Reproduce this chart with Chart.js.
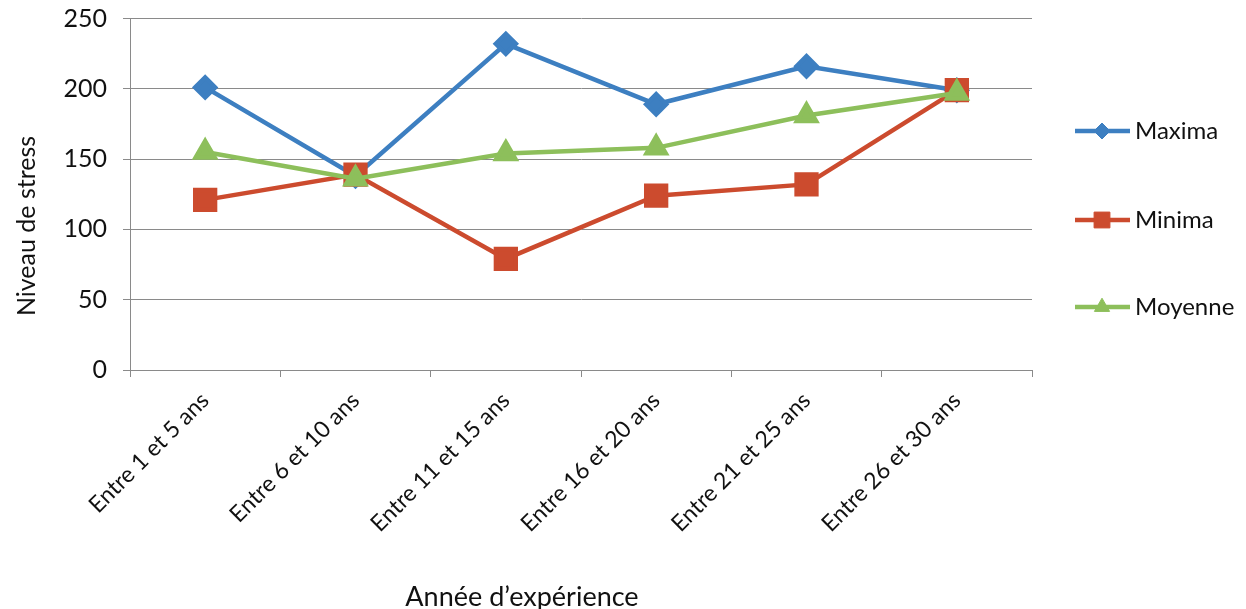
<!DOCTYPE html>
<html>
<head>
<meta charset="utf-8">
<script src="https://cdn.jsdelivr.net/npm/chart.js@4"></script>
<style>
  html, body { margin: 0; padding: 0; background: #fff; }
  #wrap { width: 1246px; height: 609px; }
</style>
</head>
<body>
<div id="wrap"><canvas id="stressChart"></canvas></div>
<script>
// categories and series
const categories = ['Entre 1 et 5 ans', 'Entre 6 et 10 ans', 'Entre 11 et 15 ans', 'Entre 16 et 20 ans', 'Entre 21 et 25 ans', 'Entre 26 et 30 ans'];
const maxima = [201, 138, 232, 189, 216, 199];
const minima = [121, 139, 79, 124, 132, 199];
const moyenne = [155, 136, 154, 158, 181, 197];
const yTicks = [0, 50, 100, 150, 200, 250];

document.addEventListener('DOMContentLoaded', () => {
    const FONT = 'Lato, "Liberation Sans", sans-serif';

    // legend and axis titles drawn by hand, placed like the spreadsheet
    const sideLegend = {
        id: 'sideLegend',
        afterDraw(chart) {
            const ctx = chart.ctx;
            const rows = [131, 220, 307];
            chart.data.datasets.forEach((ds, i) => {
                const y = rows[i];
                ctx.save();
                ctx.strokeStyle = ds.borderColor;
                ctx.fillStyle = ds.backgroundColor;
                ctx.lineWidth = 4.5;
                ctx.beginPath();
                ctx.moveTo(1075, y);
                ctx.lineTo(1130, y);
                ctx.stroke();
                ctx.lineWidth = 1;
                Chart.helpers.drawPoint(ctx, {
                    pointStyle: ds.pointStyle,
                    radius: ds.pointRadius * 0.8,
                    rotation: 0,
                    borderWidth: 1
                }, 1102, y);
                ctx.fillStyle = '#111';
                ctx.font = '24px ' + FONT;
                ctx.textAlign = 'left';
                ctx.textBaseline = 'middle';
                ctx.fillText(ds.label, 1135, y);
                ctx.restore();
            });

            ctx.save();
            ctx.fillStyle = '#111';
            ctx.font = '27px ' + FONT;
            ctx.textAlign = 'center';
            ctx.textBaseline = 'middle';
            ctx.fillText('Année d\u2019expérience', 522, 597);
            // y axis title
            ctx.translate(27, 226);
            ctx.rotate(-Math.PI / 2);
            ctx.font = '25px ' + FONT;
            ctx.fillText('Niveau de stress', 0, 0);
            ctx.restore();
        }
    };

    const ctx = document.getElementById('stressChart').getContext('2d');
    new Chart(ctx, {
        type: 'line',
        data: {
            labels: categories,
            datasets: [
                {
                    label: 'Maxima',
                    data: maxima,
                    borderColor: '#3d7fc1',
                    backgroundColor: '#3d7fc1',
                    borderWidth: 4.5,
                    pointStyle: 'rectRot',
                    pointRadius: 10,
                    order: 2
                },
                {
                    label: 'Minima',
                    data: minima,
                    borderColor: '#cc4b2e',
                    backgroundColor: '#cc4b2e',
                    borderWidth: 4.5,
                    pointStyle: 'rect',
                    pointRadius: 14,
                    order: 1
                },
                {
                    label: 'Moyenne',
                    data: moyenne,
                    borderColor: '#8dbf5b',
                    backgroundColor: '#8dbf5b',
                    borderWidth: 4.5,
                    pointStyle: 'triangle',
                    pointRadius: 11,
                    order: 0
                }
            ]
        },
        options: {
            responsive: true,
            maintainAspectRatio: false,
            animation: false,
            events: [],
            layout: { padding: { top: 17, right: 214, bottom: 0, left: 0 } },
            plugins: {
                legend: { display: false },
                tooltip: { enabled: false }
            },
            scales: {
                x: {
                    offset: true,
                    grid: {
                        offset: true,
                        drawOnChartArea: false,
                        drawTicks: true,
                        tickLength: 7,
                        color: '#8a8a8a'
                    },
                    border: { display: true, color: '#8a8a8a' },
                    ticks: {
                        minRotation: 45,
                        maxRotation: 45,
                        padding: 10,
                        color: '#111',
                        font: { family: FONT, size: 23 }
                    },
                    afterFit(scale) { scale.height = 239; }
                },
                y: {
                    min: 0,
                    max: 250,
                    afterBuildTicks(scale) {
                        scale.ticks = yTicks.map(v => ({ value: v }));
                    },
                    grid: {
                        color: '#8a8a8a',
                        tickLength: 7
                    },
                    border: { display: true, color: '#8a8a8a' },
                    ticks: {
                        padding: 16,
                        color: '#111',
                        font: { family: FONT, size: 25 }
                    },
                    afterFit(scale) {
                        scale.width = 130;
                        scale.paddingTop = 0;
                        scale.paddingBottom = 0;
                    }
                }
            }
        },
        plugins: [sideLegend]
    });
});
</script>
</body>
</html>
